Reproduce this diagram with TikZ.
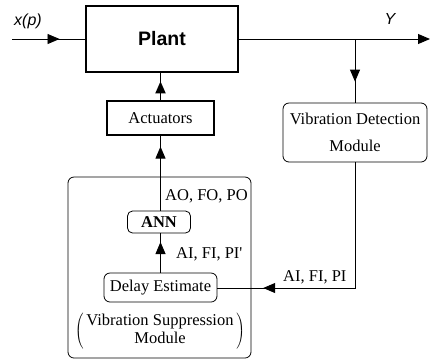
\documentclass[tikz,border=0pt]{standalone}
\usepackage{fontspec}
\setmainfont{Liberation Serif}
\newfontfamily\arialfont{Liberation Sans}
\usetikzlibrary{arrows.meta,decorations.markings}
\tikzset{
  tri/.style={Triangle[length=12pt,width=10pt]},
  midarrow/.style={postaction={decorate},decoration={markings,mark=at position #1 with {\arrow{Triangle[length=12pt,width=10pt]}}}},
  txt/.style={font=\fontsize{16.5}{20}\selectfont, inner sep=0pt},
  sqbox/.style={draw, line width=1.5pt, inner sep=0pt, font=\fontsize{16.5}{20}\selectfont},
  rbox/.style={draw, line width=0.8pt, rounded corners=6pt, inner sep=0pt, font=\fontsize{16.5}{20}\selectfont},
  conn/.style={line width=0.9pt},
}
\begin{document}
\begin{tikzpicture}[x=1pt,y=-1pt]
\useasboundingbox (0,0) rectangle (430,360);
% nodes
\node[sqbox, line width=1.7pt, minimum width=152pt, minimum height=66pt, font=\arialfont\bfseries\fontsize{19.5}{22}\selectfont] (plant) at (162,39) {Plant};
\node[sqbox, minimum width=107pt, minimum height=34pt] (act) at (160.5,118) {Actuators};
\node[rbox, minimum width=144pt, minimum height=59pt, align=center, font=\fontsize{16.5}{27}\selectfont] (vdm) at (355,132.5) {Vibration Detection\\Module};
\node[rbox, minimum width=183pt, minimum height=181pt] (vsm) at (159.5,267.5) {};
\node[rbox, rounded corners=5pt, minimum width=63pt, minimum height=22pt, font=\bfseries\fontsize{16.5}{20}\selectfont] (ann) at (159,222) {ANN};
\node[rbox, minimum width=113pt, minimum height=29pt] (delay) at (160.5,287.5) {Delay Estimate};
\node[txt, font=\fontsize{16.5}{18.5}\selectfont] (vsmtext) at (160,331) {$\left(\begin{tabular}{@{\,}c@{\,}}Vibration Suppression\\Module\end{tabular}\right)$};
% labels
\node[txt, font=\arialfont\itshape\fontsize{16}{19}\selectfont] (xp) at (28,21) {x(p)};
\node[txt, font=\arialfont\itshape\fontsize{16}{19}\selectfont] (ylab) at (390,19) {Y};
\node[txt, anchor=west] (lao) at (165,196) {AO, FO, PO};
\node[txt, anchor=west] (laip) at (176,254) {AI, FI, PI\textquotesingle};
\node[txt, anchor=west] (lai) at (283,277) {AI, FI, PI};
% coordinates
\coordinate (in) at (12,39);
\coordinate (out) at (430,39);
\coordinate (br) at (355,39);
\coordinate (corner) at (355,288);
% connectors
\draw[conn, midarrow=0.65] (in) -- (plant.west |- in);
\draw[conn, -{Triangle[length=12pt,width=10pt]}] (plant.east |- out) -- (out);
\draw[conn, midarrow=0.67] (br) -- (vdm.north);
\draw[conn, line width=1.8pt, midarrow=0.69] (act.north) -- (plant.south -| act.north);
\draw[conn, midarrow=0.855] (ann.north -| act.south) -- (act.south);
\draw[conn, midarrow=0.78] (delay.north) -- (ann.south -| delay.north);
\draw[conn, midarrow=0.826] (vdm.south) -- (corner) -- (delay.east |- corner);
\end{tikzpicture}
\end{document}
